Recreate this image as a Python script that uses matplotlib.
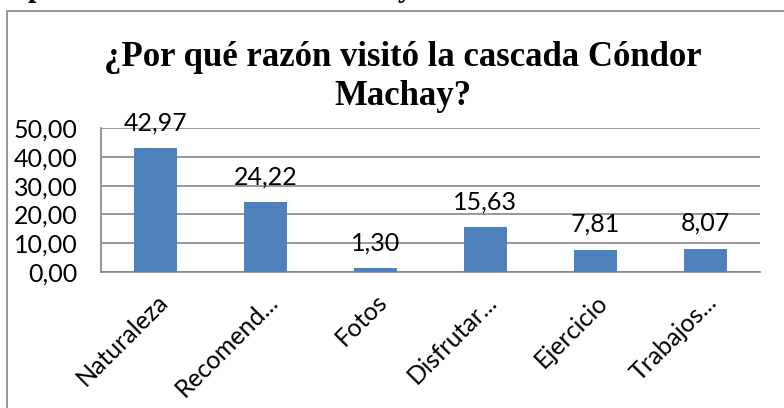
import matplotlib.pyplot as plt
from matplotlib.patches import Rectangle

# datos
categorias = ["Naturaleza", "Recomend...", "Fotos", "Disfrutar...", "Ejercicio", "Trabajos..."]
porcentajes = [42.97, 24.22, 1.30, 15.63, 7.81, 8.07]
yticks = [0, 10, 20, 30, 40, 50]

titulo = "¿Por qué razón visitó la cascada Cóndor\nMachay?"
azul = "#4F81BD"
gris = "#868686"

fig = plt.figure(figsize=(7.84, 4.08), dpi=100)
fig.patch.set_facecolor("white")

# borde del cuadro del grafico (cortado a la derecha y abajo)
fig.patches.append(Rectangle((7 / 784, -0.05), 1.0, (408 - 11) / 408 + 0.05,
                             transform=fig.transFigure, fill=False,
                             edgecolor=gris, linewidth=1.2))

# restos del texto del documento que queda cortado arriba
fig.text(28 / 784, 1.0 + 4 / 408, "p", family="Liberation Serif", weight="bold",
         fontsize=22, va="baseline", ha="left")
fig.text(398 / 784, 1.0 + 4 / 408, "y", family="Liberation Serif", weight="bold",
         fontsize=22, va="baseline", ha="left")

fig.text(403 / 784, 1 - 77 / 408, titulo, family="Liberation Serif", weight="bold",
         fontsize=25, ha="center", va="center", linespacing=1.25)

ax = fig.add_axes([101 / 784, 136 / 408, 659 / 784, 144 / 408])
x = range(len(categorias))
ax.bar(x, porcentajes, width=0.39, color=azul, zorder=3)

for i, v in zip(x, porcentajes):
    ax.annotate(f"{v:.2f}".replace(".", ","), (i, v), xytext=(0, 10),
                textcoords="offset points", ha="center", va="bottom",
                family="Lato", fontsize=18, zorder=4)

ax.set_xlim(-0.5, len(categorias) - 0.5)
ax.set_ylim(0, 50)
ax.set_yticks(yticks)
ax.set_yticklabels([f"{t:.2f}".replace(".", ",") for t in yticks], family="Lato", fontsize=18)
ax.yaxis.grid(True, color=gris, linewidth=1.2, zorder=0)
ax.set_xticks(list(x))
ax.set_xticklabels(categorias, rotation=45, ha="right", rotation_mode="anchor",
                   family="Lato", fontsize=18)
ax.tick_params(axis="y", length=0, pad=17)
ax.tick_params(axis="x", length=0, pad=13)

for side in ["top", "right"]:
    ax.spines[side].set_visible(False)
ax.spines["left"].set_color(gris)
ax.spines["bottom"].set_color(gris)
ax.spines["left"].set_linewidth(1.2)
ax.spines["bottom"].set_linewidth(1.2)

fig.savefig("out.png", dpi=100)
